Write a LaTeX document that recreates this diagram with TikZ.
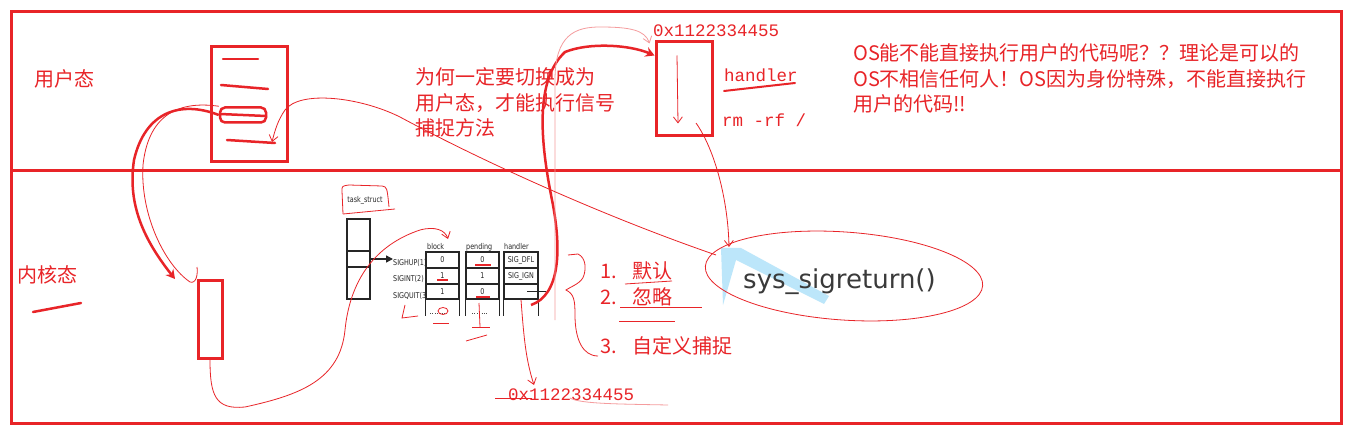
\documentclass[tikz,border=0pt]{standalone}
\usepackage{fontspec}
\setmainfont{Noto Sans CJK SC}
\newfontfamily\mono{Liberation Mono}
\newfontfamily\dv{DejaVu Sans}
\newfontfamily\dvstretta[FakeStretch=0.8]{DejaVu Sans}
\usepackage{tikz}
\usetikzlibrary{arrows.meta,calc}
\definecolor{rosso}{RGB}{232,36,40}
\definecolor{azzurro}{RGB}{188,230,250}
\definecolor{grigio}{RGB}{58,58,58}
\tikzset{
>=Stealth,
cornice/.style={draw=rosso,line width=3pt},
riquadro/.style={draw=rosso,line width=3pt,inner sep=0pt},
tratto/.style={draw=rosso,line width=2.5pt,line cap=round},
filo/.style={draw=rosso,line width=0.8pt},
pallido/.style={draw=rosso!45,line width=0.8pt},
freccia/.style={-{Straight Barb[length=6pt,width=9pt]},filo},
freccia grossa/.style={-{Stealth[length=9pt,width=10pt]},draw=rosso,line width=2.5pt},
testo rosso/.style={text=rosso,inner sep=0pt,font=\fontsize{20}{25.5}\selectfont},
indirizzo/.style={text=rosso,inner sep=0pt,font=\mono\fontsize{17.5}{20}\selectfont},
piccolo/.style={inner sep=0pt,text=black!85,font=\dvstretta\fontsize{8}{9}\selectfont},
cella/.style={piccolo,draw=black!85,line width=1.4pt,fill=white,minimum width=33pt,minimum height=16pt},
tabella/.style={draw=black!85,line width=1.4pt}}

\begin{document}
\begin{tikzpicture}[x=1pt,y=-1pt]
\fill[white] (0,0) rectangle (1364,446);

% cornice
\draw[cornice] (11,12) rectangle (1341,423);
\draw[cornice] (11,171) -- (1341,171);

\node[testo rosso,anchor=west] (utente) at (34,79) {用户态};
\node[testo rosso,anchor=west] (nucleo) at (17,275) {内核态};
\draw[tratto] (33,312) -- (81,303);

% programma utente
\node[riquadro,minimum width=76pt,minimum height=115pt] (prog) at (249,104) {};
\draw[tratto] (223,59) -- (258,59);
\draw[tratto] (221,85) -- (268,89);
\draw[tratto] (227,140) -- (275,143);
\node[riquadro,line width=2.5pt,rounded corners=5pt,minimum width=46pt,minimum height=15pt] (hl) at (243,115) {};
\draw[tratto] (220,114) -- (266,116);

\node[riquadro,minimum width=24pt,minimum height=78pt] (kern) at (210,319) {};

% handler
\node[indirizzo,anchor=base west] (addr1) at (653,37) {0x1122334455};
\node[riquadro,minimum width=56pt,minimum height=94pt] (hbox) at (684,89) {};
\node[indirizzo,anchor=base west] (hname) at (724,82) {handler};
\draw[tratto,line width=2pt] (724,91) -- (795,83);
\node[indirizzo,anchor=base west] (rmrf) at (722,127) {rm -rf /};
\draw[freccia] ([xshift=-7pt,yshift=-15pt]hbox.north) -- ([xshift=-6pt,yshift=14pt]hbox.south);

\node[testo rosso,anchor=north west,align=left] (domanda) at (415,67.5) {为何一定要切换成为\\用户态，才能执行信号\\捕捉方法};
\node[testo rosso,anchor=north west,align=left] (nota) at (853,43.5) {OS能不能直接执行用户的代码呢？？理论是可以的\\OS不相信任何人！OS因为身份特殊，不能直接执行\\用户的代码!!};

% task_struct
\node[piccolo] (tsname) at (365,200) {task\_struct};
\draw[filo] (343,214) -- (342,191) .. controls (342,186) .. (349,185) -- (382,186) .. controls (387,187) .. (389,207);
\draw[filo] (343,214) -- (395,209);
\node[cella,minimum width=23pt,minimum height=32pt] (t1) at (358.5,235) {};
\node[cella,minimum width=23pt,minimum height=16pt] (t2) at (358.5,259) {};
\node[cella,minimum width=23pt,minimum height=32pt] (t3) at (358.5,283) {};

\node[piccolo,anchor=west] (sighup) at (393,263) {SIGHUP(1)};
\node[piccolo,anchor=west] (sigint) at (393,279) {SIGINT(2)};
\node[piccolo,anchor=west] (sigquit) at (393,296) {SIGQUIT(3)};
\draw[tabella,-{Triangle[length=7pt,width=7pt]}] (t2.east) -- (t2.east -| sighup.west);

\node[piccolo,anchor=base west] (hblock) at (427,250) {block};
\node[piccolo,anchor=base west] (hpend) at (466,250) {pending};
\node[piccolo,anchor=base west] (hhand) at (504,250) {handler};

\node[cella] (b1) at (442.5,260) {0};
\node[cella] (b2) at (442.5,276) {1};
\node[cella,minimum height=15pt] (b3) at (442.5,291.5) {1};
\node[cella] (p1) at (482.5,260) {0};
\node[cella] (p2) at (482.5,276) {1};
\node[cella,minimum height=15pt] (p3) at (482.5,291.5) {0};
\node[cella,minimum width=34pt] (h1) at (521,260) {SIG\_DFL};
\node[cella,minimum width=34pt] (h2) at (521,276) {SIG\_IGN};
\node[cella,minimum width=34pt,minimum height=15pt] (h3) at (521,291.5) {};
\draw[tabella] (b3.south west) -- ++(0,16) (b3.south east) -- ++(0,16);
\draw[tabella] (p3.south west) -- ++(0,16) (p3.south east) -- ++(0,16);
\draw[tabella] (h3.south west) -- ++(0,16) (h3.south east) -- ++(0,16);
\draw[tabella] ([xshift=6pt]h3.center) -- ([xshift=25pt]h3.center);
\draw[dotted,black!70] (430,313) -- (446,313) (472,313) -- (488,313);

% segni rossi
\draw[filo,line width=1.2pt] (475,265) -- (491,265);
\draw[filo,line width=1.2pt] (437,280) -- (448,280);
\draw[filo,line width=1.2pt] (476,297) -- (490,297);
\draw[filo] (405,305) -- (402,318) -- (418,316);
\draw[filo] (443,311) ellipse [x radius=5,y radius=3.5];
\draw[filo] (433,323) -- (449,323);
\draw[filo] (479,303) -- (480,327);
\draw[filo] (472,327) -- (490,327);
\draw[filo] (466,341) -- (487,335);

% scelte
\draw[filo] (568,255) -- (578,254) .. controls (586,258) and (586,268) .. (584,275) .. controls (582,283) and (572,286) .. (566,290) .. controls (574,294) and (575,300) .. (575,315) .. controls (575,340) and (583,356) .. (598,356);
\node[testo rosso,anchor=west] (def) at (600,271) {1.\hspace{16pt}默认};
\node[testo rosso,anchor=west] (ign) at (600,297) {2.\hspace{16pt}忽略};
\node[testo rosso,anchor=west] (cust) at (600,346) {3.\hspace{16pt}自定义捕捉};
\draw[filo] (625,284) -- (672,281);
\draw[filo] (620,307) -- (702,307);
\draw[filo] (619,321) -- (675,321);

\node[indirizzo,anchor=base west] (addr2) at (508,400) {0x1122334455};
\draw[filo] (495,398) -- (532,398);
\draw[pallido] (570,398) .. controls (580,404) and (620,404) .. (668,405);

% sys_sigreturn
\fill[azzurro] (721,248) -- (741,248) -- (829,296) -- (824,304) -- (736,260) -- (723,305) -- cycle;
\node[anchor=base west,inner sep=0pt,text=grigio,font=\dv\fontsize{26}{30}\selectfont] (sys) at (743,288) {sys\_sigreturn()};
\draw[filo,rotate around={-4:(844,276)}] (844,276) ellipse [x radius=139,y radius=44];

% connettori
\coordinate (kin) at (175,279);
\coordinate (kin2) at (197,267);
\coordinate (bin) at (448,239);
\coordinate (hout) at (531,305);
\coordinate (pstart) at (555,320);
\coordinate (ain) at (534,385);
\coordinate (hdown) at (696,123);
\coordinate (sysin) at (729,247);
\coordinate (sysout) at (716,255);
\coordinate (progin) at (272,142);

\draw[freccia grossa] (hl.west) .. controls (180,100) and (145,112) .. (134,160) .. controls (128,200) and (140,235) .. (kin);
\draw[filo] (hl.north west) .. controls (175,100) and (148,118) .. (143,165) .. controls (140,215) and (165,265) .. (190,282) .. controls (196,284) and (198,275) .. (kin2);
\draw[freccia] (kern.south) .. controls (210,395) and (215,410) .. (245,407) .. controls (300,395) and (340,380) .. (345,330) .. controls (350,280) and (375,245) .. (420,230) .. controls (435,226) and (445,230) .. (bin);
\draw[freccia grossa] (hout) .. controls (560,295) and (562,250) .. (552,200) .. controls (540,140) and (535,80) .. (565,52) .. controls (590,42) and (630,45) .. ([yshift=-15pt]hbox.north west);
\draw[pallido,-{Straight Barb[length=6pt,width=9pt]}] (pstart) -- (555,80) .. controls (555,35) and (575,27) .. (600,27) .. controls (630,27) and (645,30) .. ([xshift=-5pt,yshift=-3pt]hbox.north west);
\draw[freccia] (h3.south) .. controls (524,340) and (526,360) .. (ain);
\draw[freccia] (hdown) .. controls (715,150) and (728,200) .. (sysin);
\draw[freccia] (sysout) .. controls (600,215) and (480,160) .. (400,117) .. controls (360,97) and (300,90) .. (285,110) .. controls (278,120) and (275,130) .. (progin);

\end{tikzpicture}
\end{document}
